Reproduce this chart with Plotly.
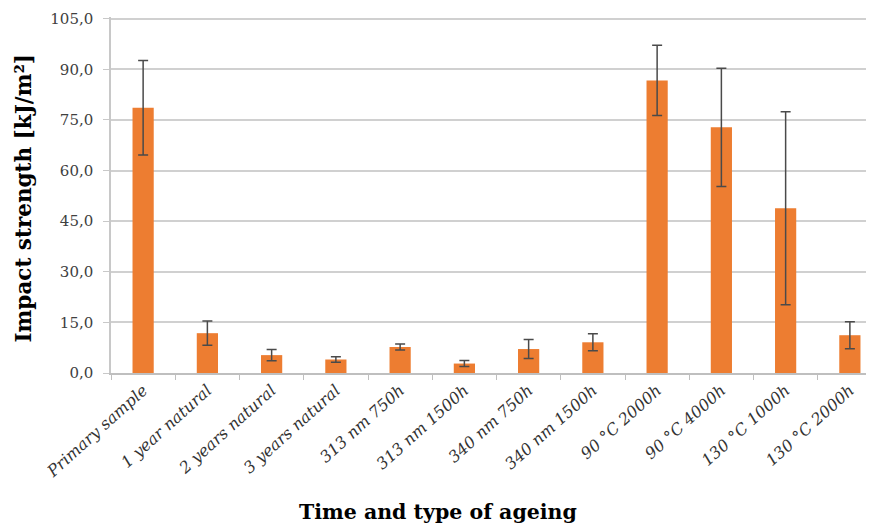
import plotly.graph_objects as go

categories = ["Primary sample", "1 year natural", "2 years natural", "3 years natural",
              "313 nm 750h", "313 nm 1500h", "340 nm 750h", "340 nm 1500h",
              "90 °C 2000h", "90 °C 4000h", "130 °C 1000h", "130 °C 2000h"]
impact_strength = [78.6, 11.8, 5.3, 4.0, 7.7, 2.8, 7.1, 9.1, 86.7, 72.8, 48.8, 11.2]
std_dev = [14.0, 3.6, 1.7, 0.8, 0.9, 0.9, 2.8, 2.5, 10.4, 17.5, 28.6, 4.0]
y_ticks = [0, 15, 30, 45, 60, 75, 90, 105]

serif = "DejaVu Serif, serif"

fig = go.Figure(go.Bar(
    x=categories,
    y=impact_strength,
    width=0.33,
    marker=dict(color="#ED7D31", line=dict(width=0)),
    error_y=dict(type="data", array=std_dev, visible=True,
                 color="#4a4a4a", thickness=1.5, width=5),
))

fig.update_layout(
    width=874, height=531,
    margin=dict(l=103, r=0, t=9, b=166),
    paper_bgcolor="white", plot_bgcolor="white",
    separators=",.",
    showlegend=False,
    annotations=[
        dict(text="<b>Time and type of ageing</b>", xref="paper", yref="paper",
             x=0.4235, y=-0.39, xanchor="center", yanchor="middle", showarrow=False,
             font=dict(family=serif, size=20.5, color="black")),
        dict(text="<b>Impact strength [kJ/m²]</b>", xref="paper", yref="paper",
             x=-0.113, y=0.49, xanchor="center", yanchor="middle", showarrow=False,
             textangle=-90, font=dict(family=serif, size=21.5, color="black")),
    ],
)
fig.update_xaxes(
    range=[-0.5, 11.5],
    tickangle=-42,
    tickfont=dict(family=serif, size=16, color="#333333", style="italic"),
    tickson="boundaries",
    ticks="outside", ticklen=5, tickcolor="#bfbfbf",
    showline=True, linecolor="#bfbfbf", linewidth=1.5,
    showgrid=False,
    automargin=False,
)
fig.update_yaxes(
    range=[0, 105.5],
    tickvals=y_ticks,
    tickformat=".1f",
    tickfont=dict(family=serif, size=15, color="#404040"),
    ticklabeloverflow="allow",
    ticklabelstandoff=7,
    showgrid=True, gridcolor="#d0d0d0", gridwidth=1.5,
    ticks="outside", ticklen=6, tickcolor="#c8c8c8",
    showline=True, linecolor="#c8c8c8", linewidth=1.5,
    zeroline=False,
    automargin=False,
)

fig.write_html("out.html")
